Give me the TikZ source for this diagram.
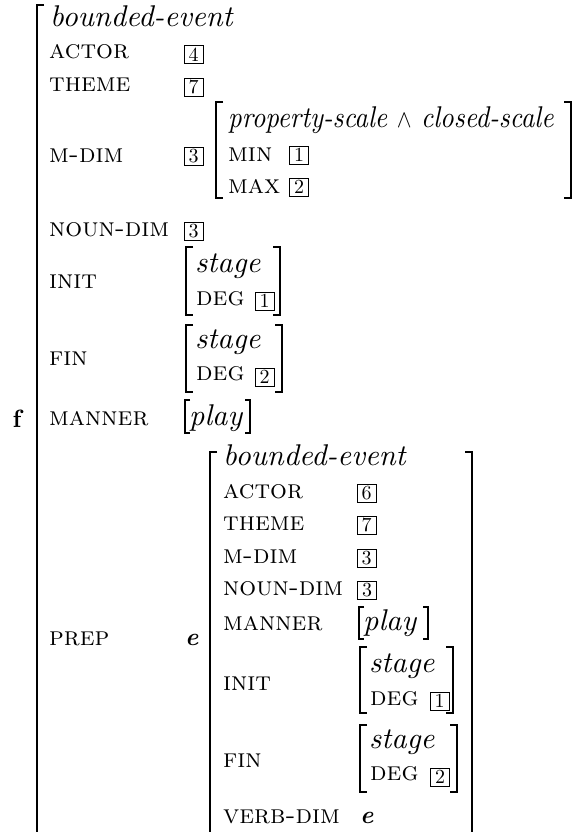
\documentclass[tikz,border=0pt]{standalone}
\usepackage{fontspec}
\newfontfamily\avmsc{lmromancaps10-regular.otf}
\newfontfamily\avmit{lmroman10-italic.otf}
\newfontfamily\avmrm{lmroman10-regular.otf}
\newfontfamily\avmbf{lmroman10-bold.otf}
\newfontfamily\avmbi{lmroman10-bolditalic.otf}
\begin{document}
\begin{tikzpicture}[x=1pt,y=-1pt,
  lbl/.style={anchor=base west, inner sep=0pt, font=\fontsize{26.5}{30}\avmsc},
  typ/.style={anchor=base west, inner sep=0pt, font=\fontsize{30}{34}\avmit},
  tagbox/.style={draw, line width=0.8pt, minimum width=19pt, minimum height=18pt, inner sep=0pt, font=\fontsize{20}{22}\avmrm},
  bigbrk/.style={line width=2.6pt, line join=miter},
  midbrk/.style={line width=2.2pt, line join=miter},
  smallbrk/.style={line width=1.6pt, line join=miter},
  varb/.style={anchor=base west, inner sep=0pt, font=\fontsize{25}{30}\avmbi}]
\useasboundingbox (0,0) rectangle (581,832);
% ---------- outer AVM ----------
\node[anchor=base west, inner sep=0pt, font=\fontsize{25}{30}\avmbf] (ftag) at (12.5,427) {f};
\draw[bigbrk] (44,5) -- (37,5) -- (37,840);
\node[typ] (t1) at (50,27) {bounded-event};
\node[lbl] (a1) at (49,59) {actor};
\node[tagbox] (b4) at (193.5,54.5) {4};
\node[lbl] (a2) at (49,92) {theme};
\node[tagbox] (b7) at (193.5,87) {7};
\node[lbl] (a3) at (49,162) {m-dim};
\node[tagbox] (b3a) at (193.5,156) {3};
% M-DIM value
\draw[midbrk] (223,102) -- (216,102) -- (216,198) -- (223,198);
\draw[midbrk] (564,102) -- (571,102) -- (571,198) -- (564,198);
\node[typ] (t2) at (228,128) {\scalebox{0.89}[1]{property-scale {\fontsize{24}{26}\selectfont$\wedge$} closed-scale}};
\node[lbl] (a4) at (228,161) {min};
\node[tagbox] (bmin) at (299,155) {1};
\node[lbl] (a5) at (228,193) {max};
\node[tagbox] (bmax) at (299,187) {2};
\node[lbl] (a6) at (49,236) {noun-dim};
\node[tagbox] (b3b) at (193.5,231.5) {3};
% INIT
\node[lbl] (a7) at (49,288) {init};
\draw[midbrk] (193,247) -- (186,247) -- (186,315) -- (193,315);
\draw[midbrk] (273,247) -- (280,247) -- (280,315) -- (273,315);
\node[typ] (t3) at (195,272) {stage};
\node[lbl] (a8) at (196,305) {deg};
\node[tagbox] (bd1) at (264.5,301) {1};
% FIN
\node[lbl] (a9) at (49,365) {fin};
\draw[midbrk] (193,325) -- (186,325) -- (186,392) -- (193,392);
\draw[midbrk] (275,325) -- (282,325) -- (282,392) -- (275,392);
\node[typ] (t4) at (195,348) {stage};
\node[lbl] (a10) at (196,380) {deg};
\node[tagbox] (bd2) at (264.5,377) {2};
% MANNER
\node[lbl] (a11) at (49,425) {manner};
\draw[smallbrk] (190,400) -- (185,400) -- (185,433) -- (190,433);
\draw[smallbrk] (245,400) -- (250,400) -- (250,433) -- (245,433);
\node[typ] (t5) at (189,425) {play};
% PREP
\node[lbl] (a12) at (49,645) {prep};
\node[varb] (e1) at (185,645) {e};
% ---------- inner AVM ----------
\draw[bigbrk] (217,452) -- (210,452) -- (210,840);
\draw[bigbrk] (465,452) -- (472,452) -- (472,840);
\node[typ] (t6) at (223,465) {bounded-event};
\node[lbl] (c1) at (223,498) {actor};
\node[tagbox] (b6) at (366.5,493) {6};
\node[lbl] (c2) at (223,530) {theme};
\node[tagbox] (b7b) at (366.5,525) {7};
\node[lbl] (c3) at (223,563) {m-dim};
\node[tagbox] (b3c) at (366.5,558) {3};
\node[lbl] (c4) at (223,595) {noun-dim};
\node[tagbox] (b3d) at (367,590) {3};
\node[lbl] (c5) at (223,630) {manner};
\draw[smallbrk] (364,607) -- (359,607) -- (359,639) -- (364,639);
\draw[smallbrk] (423,607) -- (428,607) -- (428,639) -- (423,639);
\node[typ] (t7) at (363,630) {play};
\node[lbl] (c6) at (223,690) {init};
\draw[midbrk] (367,647) -- (360,647) -- (360,713) -- (367,713);
\draw[midbrk] (446,647) -- (453,647) -- (453,713) -- (446,713);
\node[typ] (t8) at (369,672) {stage};
\node[lbl] (c7) at (370,705) {deg};
\node[tagbox] (bd3) at (439.5,701) {1};
\node[lbl] (c8) at (223,767) {fin};
\draw[midbrk] (367,725) -- (360,725) -- (360,792) -- (367,792);
\draw[midbrk] (450,725) -- (457,725) -- (457,792) -- (450,792);
\node[typ] (t9) at (369,748) {stage};
\node[lbl] (c9) at (370,780) {deg};
\node[tagbox] (bd4) at (440,777) {2};
\node[lbl] (c10) at (223,823) {verb-dim};
\node[varb] (e2) at (360,823) {e};
\end{tikzpicture}
\end{document}
